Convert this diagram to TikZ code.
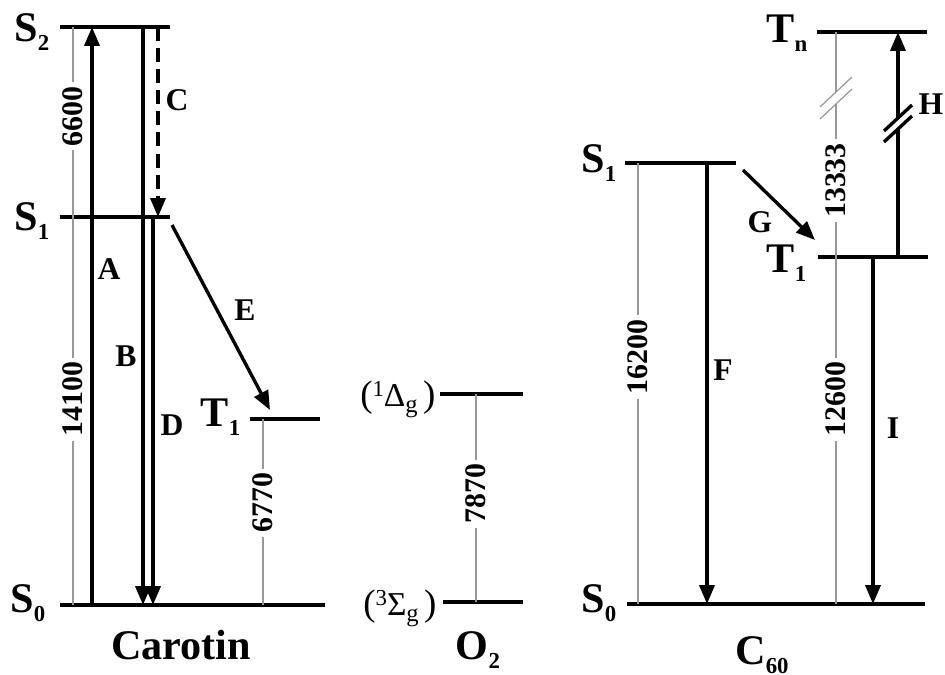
\documentclass[tikz,border=0pt]{standalone}
\usepackage{fontspec}
\setmainfont{Liberation Serif}
\usetikzlibrary{arrows.meta}
\newcommand\dn[1]{\raisebox{-2.5pt}{\fontsize{6.5}{6.5}\selectfont #1}}
\newcommand\oxlbl[2]{{\fontsize{10.5}{10.5}\selectfont(}\raisebox{3pt}{\fontsize{6.5}{6.5}\selectfont #1}{\fontsize{9.5}{9.5}\selectfont #2}\raisebox{-1.5pt}{\fontsize{7}{7}\selectfont g}\hspace{1.5pt}{\fontsize{10.5}{10.5}\selectfont)}}
\begin{document}
\begin{tikzpicture}[
    x=0.1mm, y=-0.1mm,
    lvline/.style={line width=1.2pt},
    trans/.style={line width=0.95pt, -{Triangle[length=5.4pt,width=4.3pt]}},
    transline/.style={line width=0.95pt},
    gapline/.style={draw=black!40, line width=0.35pt},
    gapnum/.style={fill=white, rotate=90, inner sep=1.2pt, font=\bfseries\fontsize{8.5}{8.5}\selectfont},
    brk/.style={line width=0.95pt},
    tlabel/.style={font=\bfseries\fontsize{9}{9}\selectfont},
    state/.style={anchor=base east, inner sep=0pt, font=\bfseries\fontsize{12}{12}\selectfont},
    oxstate/.style={anchor=base east, inner sep=0pt},
    molname/.style={anchor=base, inner sep=0pt, font=\bfseries\fontsize{12}{12}\selectfont}
]
    \useasboundingbox (0,0) rectangle (945,675);

    % Carotin levels
    \coordinate (cS2w) at (60,27);   \coordinate (cS2e) at (170,27);
    \coordinate (cS1w) at (60,217);  \coordinate (cS1e) at (170,217);
    \coordinate (cT1w) at (250,419); \coordinate (cT1e) at (320,419);
    \coordinate (cS0w) at (60,605);  \coordinate (cS0e) at (325,605);
    \draw[lvline] (cS2w) -- (cS2e);
    \draw[lvline] (cS1w) -- (cS1e);
    \draw[lvline] (cT1w) -- (cT1e);
    \draw[lvline] (cS0w) -- (cS0e);

    \node[state] (sS2) at (50,42) {S\dn{2}};
    \node[state] (sS1) at (50,231) {S\dn{1}};
    \node[state] (sS0) at (46,613) {S\dn{0}};
    \node[state] (sT1) at (241,427) {T\dn{1}};
    \node[molname] (mCar) at (181,660) {Carotin};

    % Carotin gaps
    \coordinate (xgA) at (73,0);
    \coordinate (xgT) at (263,0);
    \draw[gapline] (xgA |- cS2w) -- node[gapnum, pos=0.47] (n6600) {6600} (xgA |- cS1w);
    \draw[gapline] (xgA |- cS1w) -- node[gapnum, pos=0.47] (n14100) {14100} (xgA |- cS0w);
    \draw[gapline] (xgT |- cT1w) -- node[gapnum, pos=0.45] (n6770) {6770} (xgT |- cS0w);

    % Carotin transitions
    \coordinate (xA) at (92,0);
    \coordinate (xB) at (143,0);
    \coordinate (xD) at (153,0);
    \coordinate (xC) at (158,0);
    \coordinate (eFrom) at (172,225);
    \coordinate (eTo) at (270,410);
    \draw[trans] (xA |- cS0w) -- (xA |- cS2w);
    \draw[trans] (xB |- cS2w) -- (xB |- cS0w);
    \draw[trans] (xD |- cS1w) -- (xD |- cS0w);
    \draw[trans, dash pattern=on 4pt off 2pt] (xC |- cS2w) -- (xC |- cS1w);
    \draw[trans] (eFrom) -- (eTo);

    \node[tlabel] (labA) at (109,269) {A};
    \node[tlabel] (labB) at (126,356) {B};
    \node[tlabel] (labC) at (177,100) {C};
    \node[tlabel] (labD) at (172,425) {D};
    \node[tlabel] (labE) at (245,310) {E};

    % O2
    \coordinate (oUw) at (440,394); \coordinate (oUe) at (523,394);
    \coordinate (oLw) at (443,602); \coordinate (oLe) at (523,602);
    \coordinate (xgO) at (476,0);
    \draw[lvline] (oUw) -- (oUe);
    \draw[lvline] (oLw) -- (oLe);
    \draw[gapline] (xgO |- oUw) -- node[gapnum, pos=0.48] (n7870) {7870} (xgO |- oLw);
    \node[oxstate] (oxU) at (436,407) {\oxlbl{1}{Δ}};
    \node[oxstate] (oxL) at (437,616) {\oxlbl{3}{Σ}};
    \node[molname] (mO2) at (478,660) {O\dn{2}};

    % C60 levels
    \coordinate (fTnw) at (817,32);  \coordinate (fTne) at (927,32);
    \coordinate (fS1w) at (625,163); \coordinate (fS1e) at (736,163);
    \coordinate (fT1w) at (818,257); \coordinate (fT1e) at (928,257);
    \coordinate (fS0w) at (627,604); \coordinate (fS0e) at (925,604);
    \draw[lvline] (fTnw) -- (fTne);
    \draw[lvline] (fS1w) -- (fS1e);
    \draw[lvline] (fT1w) -- (fT1e);
    \draw[lvline] (fS0w) -- (fS0e);

    \node[state] (sTn) at (808,43) {T\dn{n}};
    \node[state] (sS1f) at (617,173) {S\dn{1}};
    \node[state] (sT1f) at (807,273) {T\dn{1}};
    \node[state] (sS0f) at (617,613) {S\dn{0}};
    \node[molname] (mC60) at (762,665) {C\dn{60}};

    % C60 gaps
    \coordinate (xgS) at (638,0);
    \coordinate (xgC) at (836,0);
    \coordinate (gbrkHi) at (836,92);
    \coordinate (gbrkLo) at (836,104);
    \draw[gapline] (xgS |- fS1w) -- node[gapnum, pos=0.44] (n16200) {16200} (xgS |- fS0w);
    \draw[gapline] (xgC |- fTnw) -- (gbrkHi);
    \draw[gapline] (gbrkLo) -- node[gapnum, pos=0.5] (n13333) {13333} (xgC |- fT1w);
    \draw[gapline] (xgC |- fT1w) -- node[gapnum, pos=0.41] (n12600) {12600} (xgC |- fS0w);
    \draw[gapline] (gbrkHi) ++(-16,15) -- ++(32,-30);
    \draw[gapline] (gbrkLo) ++(-16,15) -- ++(32,-30);

    % C60 transitions
    \coordinate (xF) at (707,0);
    \coordinate (xI) at (873,0);
    \coordinate (xH) at (898,0);
    \coordinate (hbrkHi) at (898,118);
    \coordinate (hbrkLo) at (898,129);
    \coordinate (gFrom) at (743,170);
    \coordinate (gTo) at (815,240);
    \draw[trans] (xF |- fS1w) -- (xF |- fS0w);
    \draw[trans] (xI |- fT1w) -- (xI |- fS0w);
    \draw[transline] (xH |- fT1w) -- (hbrkLo);
    \draw[trans] (hbrkHi) -- (xH |- fTnw);
    \draw[brk] (hbrkHi) ++(-14,13) -- ++(28,-26);
    \draw[brk] (hbrkLo) ++(-14,13) -- ++(28,-26);
    \draw[trans] (gFrom) -- (gTo);

    \node[tlabel] (labF) at (723,370) {F};
    \node[tlabel] (labG) at (760,222) {G};
    \node[tlabel] (labH) at (931,104) {H};
    \node[tlabel] (labI) at (893,428) {I};

\end{tikzpicture}
\end{document}
